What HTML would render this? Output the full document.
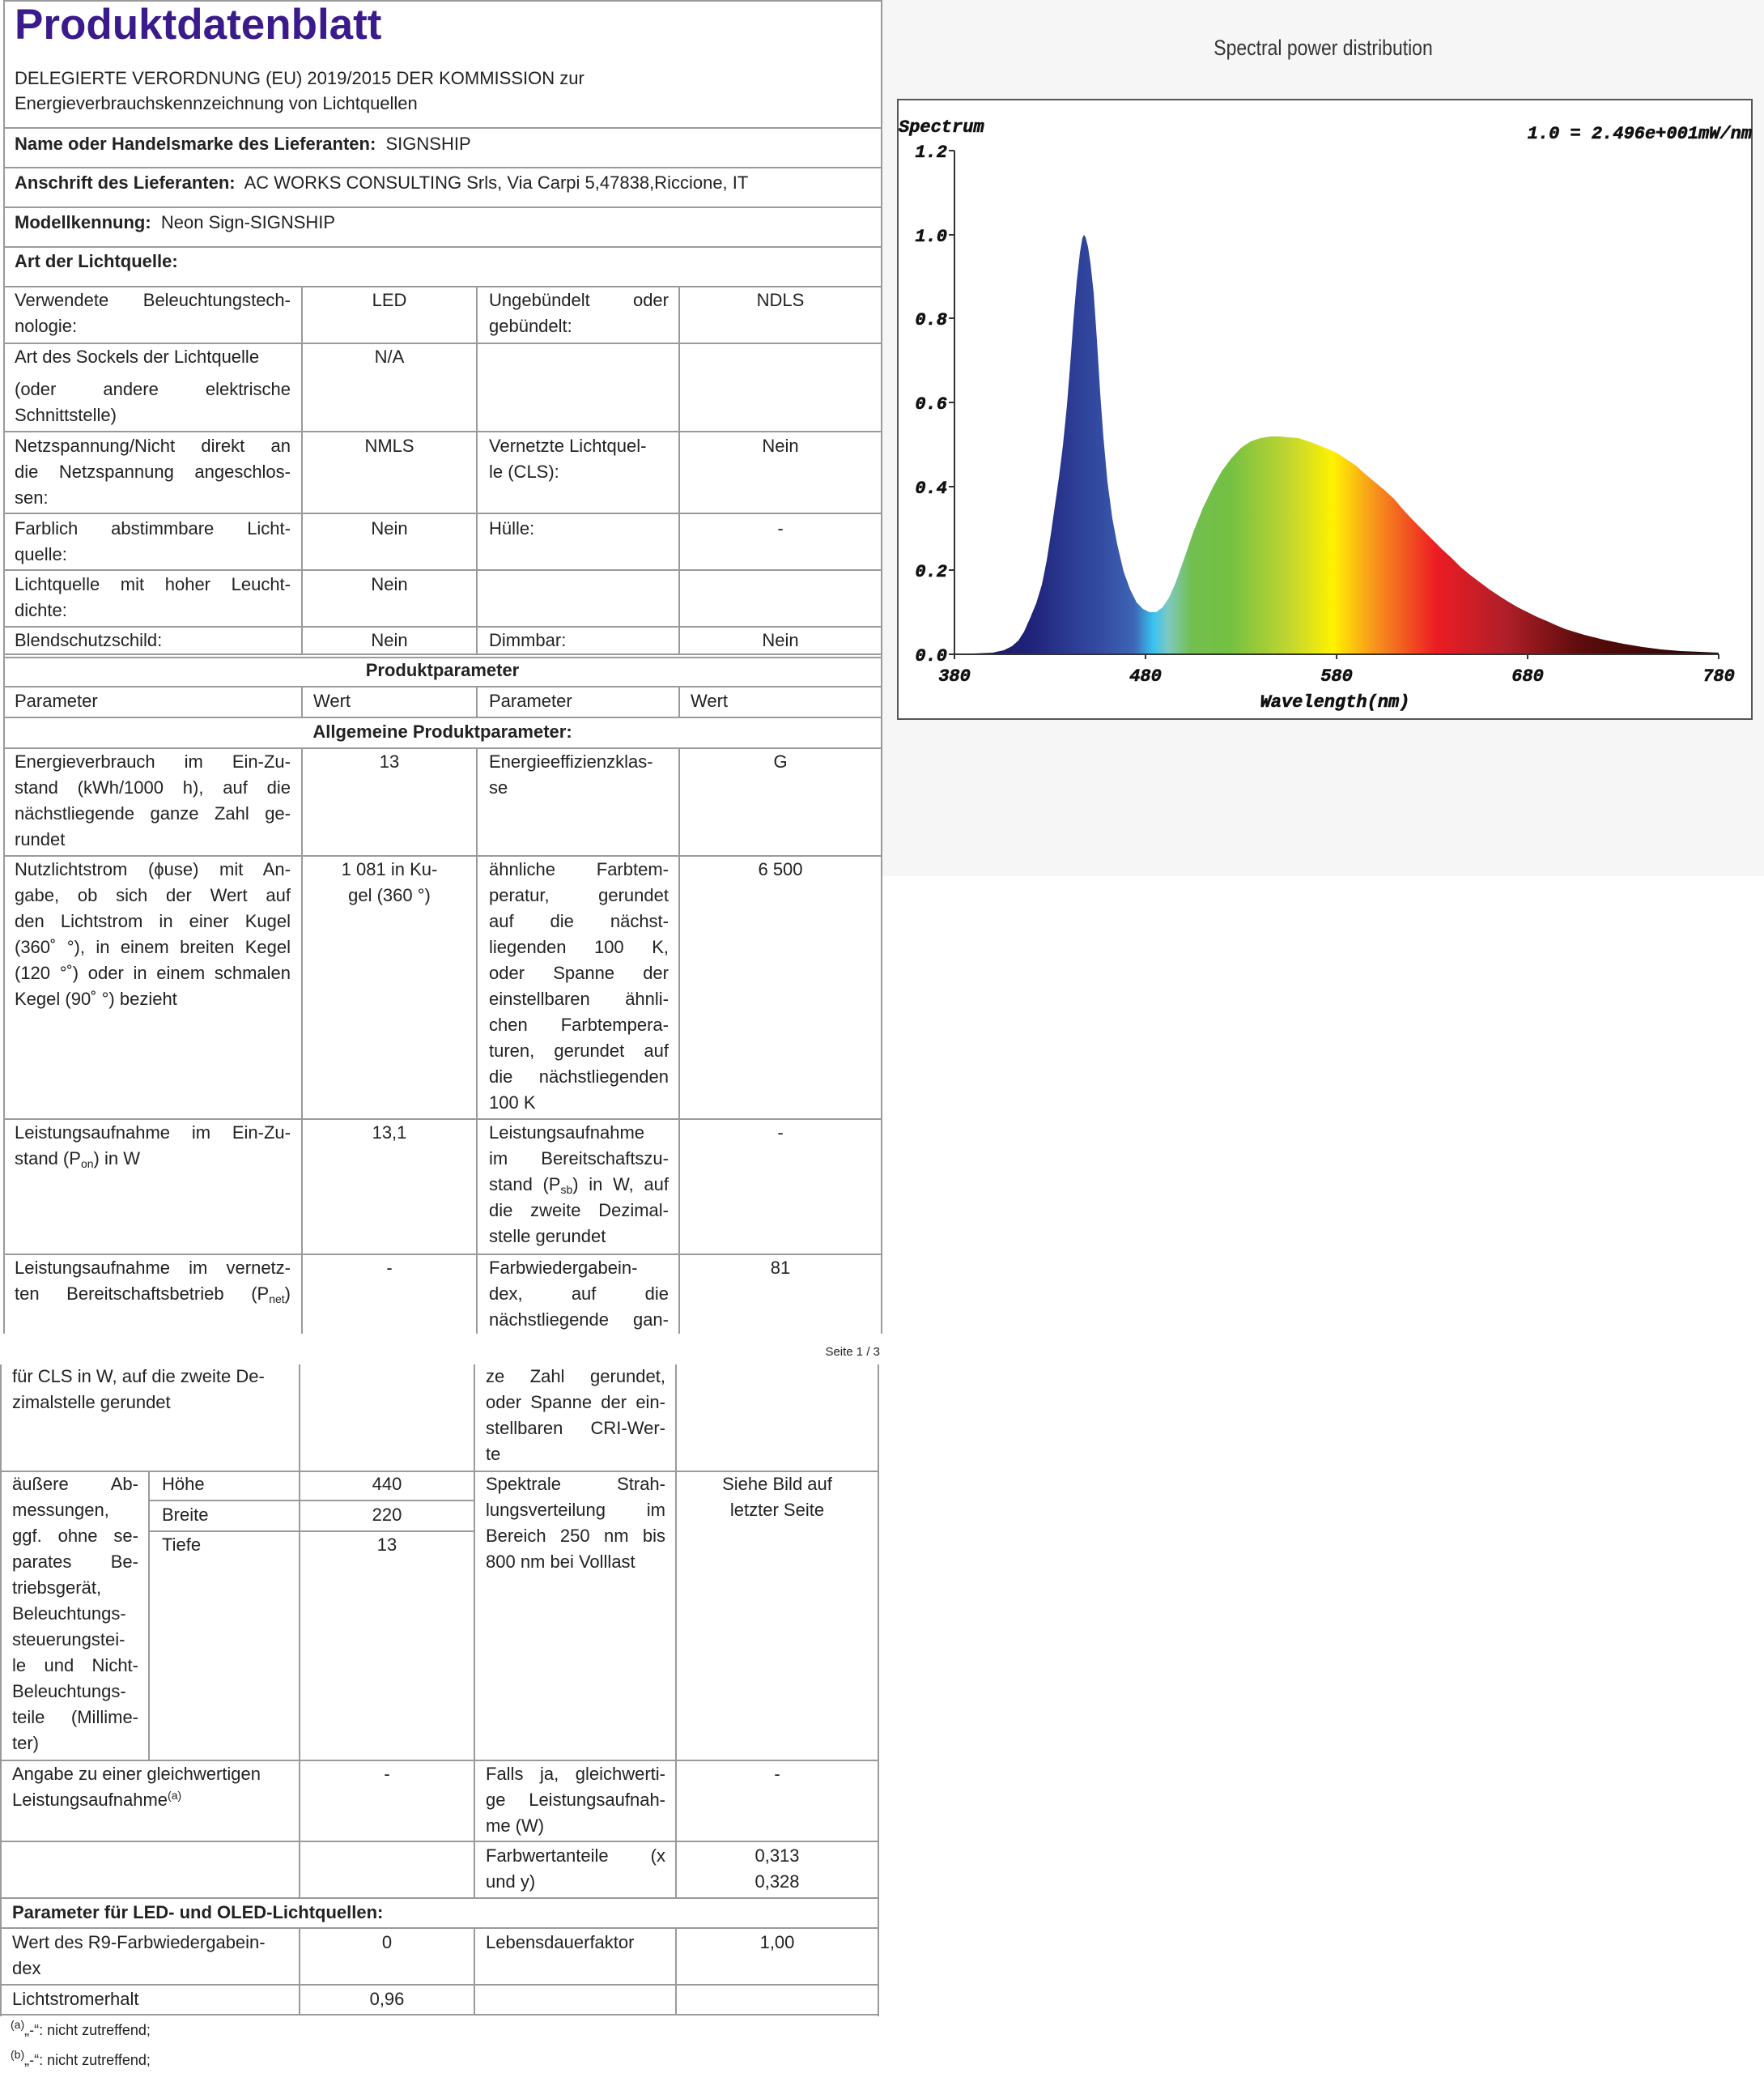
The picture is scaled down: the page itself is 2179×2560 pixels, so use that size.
<!DOCTYPE html>
<html><head><meta charset="utf-8">
<style>
*{margin:0;padding:0;box-sizing:border-box}
body{width:2179px;height:2560px;background:#fff;position:relative;overflow:hidden;font-family:"Liberation Sans",sans-serif;color:#222;font-size:22px}
.h{position:absolute;height:2px;background:#9a9a9a}
.v{position:absolute;width:2px;background:#9a9a9a}
.t{position:absolute;line-height:32px;white-space:nowrap}
.t div{height:32px;white-space:nowrap}
.j{text-align:justify;text-align-last:justify}
.c{text-align:center}
b{font-weight:bold}
sub{font-size:14px;vertical-align:-4px;line-height:0}
sup{font-size:14px;vertical-align:8px;line-height:0}
</style></head><body>

<div style="position:absolute;left:1090px;top:0;width:1089px;height:1082px;background:#f6f6f6"></div>
<div style="position:absolute;left:1090px;top:44px;width:1089px;text-align:center;font-size:27px;color:#333;transform:scaleX(0.85)">Spectral power distribution</div>
<svg style="position:absolute;left:0;top:0" width="2179" height="1100">
<defs>
<linearGradient id="g" x1="1179" x2="2123" y1="0" y2="0" gradientUnits="userSpaceOnUse">
<stop offset="0" stop-color="#141450"/>
<stop offset="0.1" stop-color="#1f2378"/>
<stop offset="0.15" stop-color="#2b3a92"/>
<stop offset="0.2" stop-color="#3550a5"/>
<stop offset="0.235" stop-color="#3e66b5"/>
<stop offset="0.26" stop-color="#38c2f0"/>
<stop offset="0.28" stop-color="#7fc9c0"/>
<stop offset="0.31" stop-color="#72bf50"/>
<stop offset="0.36" stop-color="#74c043"/>
<stop offset="0.44" stop-color="#c4d62f"/>
<stop offset="0.495" stop-color="#fff200"/>
<stop offset="0.55" stop-color="#f7941d"/>
<stop offset="0.63" stop-color="#ec1c24"/>
<stop offset="0.72" stop-color="#b01f28"/>
<stop offset="0.82" stop-color="#5c0c0c"/>
<stop offset="1" stop-color="#200404"/>
</linearGradient>
</defs>
<rect x="1109" y="123" width="1055" height="765" fill="#fff" stroke="#555" stroke-width="2"/>
<path fill="url(#g)" d="M1179,808 L1226,806 1240,803 1250,798 1258,791 1265,780 1273,762 1280,745 1287,722 1293,692 1298,660 1303,625 1308,590 1313,550 1318,500 1322,450 1326,395 1330,348 1334,312 1337,294 1339,290 1341,293 1344,305 1347,325 1351,362 1355,420 1359,485 1363,540 1368,595 1374,640 1380,672 1388,706 1396,728 1404,744 1412,752 1420,756 1428,756 1436,750 1444,738 1452,720 1462,692 1474,657 1486,627 1498,602 1509,582 1521,566 1533,553 1545,545 1557,541 1569,539 1580,539 1592,540 1604,541 1616,545 1627,549 1639,554 1651,559 1663,567 1675,575 1686,585 1698,595 1710,605 1722,616 1733,629 1745,642 1757,654 1769,666 1781,678 1793,689 1804,700 1816,710 1828,719 1840,728 1852,736 1863,743 1875,750 1887,756 1899,762 1911,767 1922,772 1934,777 1957,784 1981,790 2005,795 2029,799 2052,802 2076,804 2100,805 2123,806 L2123,808 Z"/>
<g stroke="#333" stroke-width="2" fill="none">
<path d="M1179,186 V808 H2123"/>
<path d="M1172,186H1179M1172,290H1179M1172,393H1179M1172,497H1179M1172,601H1179M1172,704H1179M1172,808H1179"/>
<path d="M1179,808v6M1415,808v6M1651,808v6M1887,808v6M2123,808v6"/>
</g>
<g font-family="Liberation Mono,monospace" font-weight="bold" font-style="italic" font-size="22" fill="#111" stroke="#111" stroke-width="0.6">
<text x="1110" y="163">Spectrum</text>
<g text-anchor="end"><text x="1170" y="194">1.2</text><text x="1170" y="298">1.0</text><text x="1170" y="401">0.8</text><text x="1170" y="505">0.6</text><text x="1170" y="609">0.4</text><text x="1170" y="712">0.2</text><text x="1170" y="816">0.0</text>
<text x="2164" y="171">1.0 = 2.496e+001mW/nm</text></g>
<g text-anchor="middle"><text x="1179" y="841">380</text><text x="1415" y="841">480</text><text x="1651" y="841">580</text><text x="1887" y="841">680</text><text x="2123" y="841">780</text>
<text x="1649" y="873">Wavelength(nm)</text></g>
</g>
</svg>

<div class="t" style="left:18px;top:-2px;font-size:53px;line-height:66px;font-weight:bold;color:#3b1a8c">Produktdatenblatt</div>
<div class="t" style="left:18px;top:81px;font-size:22px">DELEGIERTE VERORDNUNG (EU) 2019/2015 DER KOMMISSION zur</div>
<div class="t" style="left:18px;top:112px;font-size:22px">Energieverbrauchskennzeichnung von Lichtquellen</div>

<div class="h" style="left:5px;top:0;width:1085px"></div>
<div class="h" style="left:5px;top:157px;width:1085px"></div>
<div class="h" style="left:5px;top:206px;width:1085px"></div>
<div class="h" style="left:5px;top:255px;width:1085px"></div>
<div class="h" style="left:5px;top:304px;width:1085px"></div>
<div class="h" style="left:5px;top:353px;width:1085px"></div>
<div class="h" style="left:5px;top:423px;width:1085px"></div>
<div class="h" style="left:5px;top:532px;width:1085px"></div>
<div class="h" style="left:5px;top:633px;width:1085px"></div>
<div class="h" style="left:5px;top:703px;width:1085px"></div>
<div class="h" style="left:5px;top:773px;width:1085px"></div>
<div class="h" style="left:5px;top:807px;width:1085px"></div>
<div class="h" style="left:5px;top:811px;width:1085px"></div>
<div class="h" style="left:5px;top:847px;width:1085px"></div>
<div class="h" style="left:5px;top:885px;width:1085px"></div>
<div class="h" style="left:5px;top:923px;width:1085px"></div>
<div class="h" style="left:5px;top:1056px;width:1085px"></div>
<div class="h" style="left:5px;top:1381px;width:1085px"></div>
<div class="h" style="left:5px;top:1548px;width:1085px"></div>
<div class="v" style="left:4px;top:0;height:1647px"></div>
<div class="v" style="left:1088px;top:0;height:1647px"></div>
<div class="v" style="left:372px;top:353px;height:456px"></div>
<div class="v" style="left:588px;top:353px;height:456px"></div>
<div class="v" style="left:838px;top:353px;height:456px"></div>
<div class="v" style="left:372px;top:847px;height:38px"></div>
<div class="v" style="left:588px;top:847px;height:38px"></div>
<div class="v" style="left:838px;top:847px;height:38px"></div>
<div class="v" style="left:372px;top:923px;height:724px"></div>
<div class="v" style="left:588px;top:923px;height:724px"></div>
<div class="v" style="left:838px;top:923px;height:724px"></div>

<div class="t" style="left:18px;top:162px"><b>Name oder Handelsmarke des Lieferanten:</b>&nbsp; SIGNSHIP</div>
<div class="t" style="left:18px;top:210px"><b>Anschrift des Lieferanten:</b>&nbsp; AC WORKS CONSULTING Srls, Via Carpi 5,47838,Riccione, IT</div>
<div class="t" style="left:18px;top:259px"><b>Modellkennung:</b>&nbsp; Neon Sign-SIGNSHIP</div>
<div class="t" style="left:18px;top:307px"><b>Art der Lichtquelle:</b></div>

<div class="t" style="left:18px;top:355px;width:341px"><div class="j">Verwendete Beleuchtungstech-</div><div>nologie:</div></div>
<div class="t c" style="left:374px;top:355px;width:214px">LED</div>
<div class="t" style="left:604px;top:355px;width:222px"><div class="j">Ungebündelt oder</div><div>gebündelt:</div></div>
<div class="t c" style="left:840px;top:355px;width:248px">NDLS</div>

<div class="t" style="left:18px;top:425px;width:341px"><div>Art des Sockels der Lichtquelle</div><div class="j" style="margin-top:8px">(oder andere elektrische</div><div>Schnittstelle)</div></div>
<div class="t c" style="left:374px;top:425px;width:214px">N/A</div>

<div class="t" style="left:18px;top:535px;width:341px"><div class="j">Netzspannung/Nicht direkt an</div><div class="j">die Netzspannung angeschlos-</div><div>sen:</div></div>
<div class="t c" style="left:374px;top:535px;width:214px">NMLS</div>
<div class="t" style="left:604px;top:535px;width:222px"><div>Vernetzte Lichtquel-</div><div>le (CLS):</div></div>
<div class="t c" style="left:840px;top:535px;width:248px">Nein</div>

<div class="t" style="left:18px;top:637px;width:341px"><div class="j">Farblich abstimmbare Licht-</div><div>quelle:</div></div>
<div class="t c" style="left:374px;top:637px;width:214px">Nein</div>
<div class="t" style="left:604px;top:637px;width:222px">Hülle:</div>
<div class="t c" style="left:840px;top:637px;width:248px">-</div>

<div class="t" style="left:18px;top:706px;width:341px"><div class="j">Lichtquelle mit hoher Leucht-</div><div>dichte:</div></div>
<div class="t c" style="left:374px;top:706px;width:214px">Nein</div>

<div class="t" style="left:18px;top:775px">Blendschutzschild:</div>
<div class="t c" style="left:374px;top:775px;width:214px">Nein</div>
<div class="t" style="left:604px;top:775px">Dimmbar:</div>
<div class="t c" style="left:840px;top:775px;width:248px">Nein</div>

<div class="t c" style="left:5px;top:812px;width:1083px"><b>Produktparameter</b></div>
<div class="t" style="left:18px;top:850px">Parameter</div>
<div class="t" style="left:387px;top:850px">Wert</div>
<div class="t" style="left:604px;top:850px">Parameter</div>
<div class="t" style="left:853px;top:850px">Wert</div>
<div class="t c" style="left:5px;top:888px;width:1083px"><b>Allgemeine Produktparameter:</b></div>

<div class="t" style="left:18px;top:925px;width:341px"><div class="j">Energieverbrauch im Ein-Zu-</div><div class="j">stand (kWh/1000 h), auf die</div><div class="j">nächstliegende ganze Zahl ge-</div><div>rundet</div></div>
<div class="t c" style="left:374px;top:925px;width:214px">13</div>
<div class="t" style="left:604px;top:925px;width:222px"><div>Energieeffizienzklas-</div><div>se</div></div>
<div class="t c" style="left:840px;top:925px;width:248px">G</div>

<div class="t" style="left:18px;top:1058px;width:341px"><div class="j">Nutzlichtstrom (ϕuse) mit An-</div><div class="j">gabe, ob sich der Wert auf</div><div class="j">den Lichtstrom in einer Kugel</div><div class="j">(360˚ °), in einem breiten Kegel</div><div class="j">(120 °˚) oder in einem schmalen</div><div>Kegel (90˚ °) bezieht</div></div>
<div class="t c" style="left:374px;top:1058px;width:214px"><div>1 081 in Ku-</div><div>gel (360 °)</div></div>
<div class="t" style="left:604px;top:1058px;width:222px"><div class="j">ähnliche Farbtem-</div><div class="j">peratur, gerundet</div><div class="j">auf die nächst-</div><div class="j">liegenden 100 K,</div><div class="j">oder Spanne der</div><div class="j">einstellbaren ähnli-</div><div class="j">chen Farbtempera-</div><div class="j">turen, gerundet auf</div><div class="j">die nächstliegenden</div><div>100 K</div></div>
<div class="t c" style="left:840px;top:1058px;width:248px">6 500</div>

<div class="t" style="left:18px;top:1383px;width:341px"><div class="j">Leistungsaufnahme im Ein-Zu-</div><div>stand (P<sub>on</sub>) in W</div></div>
<div class="t c" style="left:374px;top:1383px;width:214px">13,1</div>
<div class="t" style="left:604px;top:1383px;width:222px"><div>Leistungsaufnahme</div><div class="j">im Bereitschaftszu-</div><div class="j">stand (P<sub>sb</sub>) in W, auf</div><div class="j">die zweite Dezimal-</div><div>stelle gerundet</div></div>
<div class="t c" style="left:840px;top:1383px;width:248px">-</div>

<div class="t" style="left:18px;top:1550px;width:341px"><div class="j">Leistungsaufnahme im vernetz-</div><div class="j">ten Bereitschaftsbetrieb (P<sub>net</sub>)</div></div>
<div class="t c" style="left:374px;top:1550px;width:214px">-</div>
<div class="t" style="left:604px;top:1550px;width:222px"><div>Farbwiedergabein-</div><div class="j">dex, auf die</div><div class="j">nächstliegende gan-</div></div>
<div class="t c" style="left:840px;top:1550px;width:248px">81</div>

<div class="t" style="left:980px;top:1660px;font-size:15px;line-height:20px;width:107px;text-align:right">Seite 1 / 3</div>

<div class="v" style="left:0px;top:1685px;height:805px"></div>
<div class="v" style="left:1084px;top:1685px;height:805px"></div>
<div class="v" style="left:369px;top:1685px;height:659px"></div>
<div class="v" style="left:585px;top:1685px;height:659px"></div>
<div class="v" style="left:834px;top:1685px;height:659px"></div>
<div class="v" style="left:183px;top:1817px;height:358px"></div>
<div class="v" style="left:369px;top:2381px;height:108px"></div>
<div class="v" style="left:585px;top:2381px;height:108px"></div>
<div class="v" style="left:834px;top:2381px;height:108px"></div>
<div class="h" style="left:0;top:1816px;width:1086px"></div>
<div class="h" style="left:183px;top:1852px;width:403px"></div>
<div class="h" style="left:183px;top:1890px;width:403px"></div>
<div class="h" style="left:0;top:2173px;width:1086px"></div>
<div class="h" style="left:0;top:2273px;width:1086px"></div>
<div class="h" style="left:0;top:2343px;width:1086px"></div>
<div class="h" style="left:0;top:2380px;width:1086px"></div>
<div class="h" style="left:0;top:2450px;width:1086px"></div>
<div class="h" style="left:0;top:2487px;width:1086px"></div>

<div class="t" style="left:15px;top:1684px;width:341px"><div>für CLS in W, auf die zweite De-</div><div>zimalstelle gerundet</div></div>
<div class="t" style="left:600px;top:1684px;width:222px"><div class="j">ze Zahl gerundet,</div><div class="j">oder Spanne der ein-</div><div class="j">stellbaren CRI-Wer-</div><div>te</div></div>

<div class="t" style="left:15px;top:1817px;width:156px"><div class="j">äußere Ab-</div><div>messungen,</div><div class="j">ggf. ohne se-</div><div class="j">parates Be-</div><div>triebsgerät,</div><div>Beleuchtungs-</div><div>steuerungstei-</div><div class="j">le und Nicht-</div><div>Beleuchtungs-</div><div class="j">teile (Millime-</div><div>ter)</div></div>
<div class="t" style="left:200px;top:1817px">Höhe</div>
<div class="t" style="left:200px;top:1855px">Breite</div>
<div class="t" style="left:200px;top:1892px">Tiefe</div>
<div class="t c" style="left:371px;top:1817px;width:214px">440</div>
<div class="t c" style="left:371px;top:1855px;width:214px">220</div>
<div class="t c" style="left:371px;top:1892px;width:214px">13</div>
<div class="t" style="left:600px;top:1817px;width:222px"><div class="j">Spektrale Strah-</div><div class="j">lungsverteilung im</div><div class="j">Bereich 250 nm bis</div><div>800 nm bei Volllast</div></div>
<div class="t c" style="left:836px;top:1817px;width:248px"><div>Siehe Bild auf</div><div>letzter Seite</div></div>

<div class="t" style="left:15px;top:2175px;width:341px"><div>Angabe zu einer gleichwertigen</div><div>Leistungsaufnahme<sup>(a)</sup></div></div>
<div class="t c" style="left:371px;top:2175px;width:214px">-</div>
<div class="t" style="left:600px;top:2175px;width:222px"><div class="j">Falls ja, gleichwerti-</div><div class="j">ge Leistungsaufnah-</div><div>me (W)</div></div>
<div class="t c" style="left:836px;top:2175px;width:248px">-</div>

<div class="t" style="left:600px;top:2276px;width:222px"><div class="j">Farbwertanteile (x</div><div>und y)</div></div>
<div class="t c" style="left:836px;top:2276px;width:248px"><div>0,313</div><div>0,328</div></div>

<div class="t" style="left:15px;top:2346px"><b>Parameter für LED- und OLED-Lichtquellen:</b></div>

<div class="t" style="left:15px;top:2383px;width:341px"><div>Wert des R9-Farbwiedergabein-</div><div>dex</div></div>
<div class="t c" style="left:371px;top:2383px;width:214px">0</div>
<div class="t" style="left:600px;top:2383px">Lebensdauerfaktor</div>
<div class="t c" style="left:836px;top:2383px;width:248px">1,00</div>

<div class="t" style="left:15px;top:2453px">Lichtstromerhalt</div>
<div class="t c" style="left:371px;top:2453px;width:214px">0,96</div>

<div class="t" style="left:13px;top:2494px;font-size:18px;line-height:26px"><sup>(a)</sup>„-“: nicht zutreffend;</div>
<div class="t" style="left:13px;top:2531px;font-size:18px;line-height:26px"><sup>(b)</sup>„-“: nicht zutreffend;</div>

</body></html>
